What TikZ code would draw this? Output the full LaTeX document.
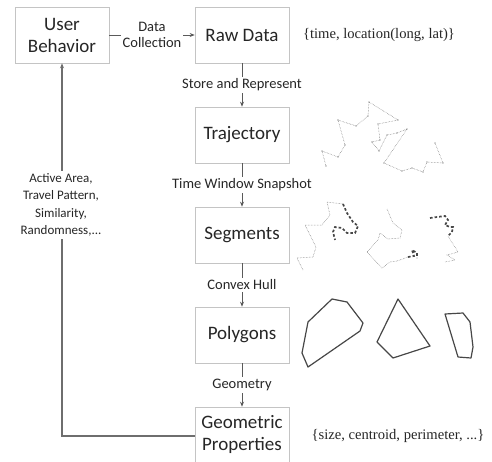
\documentclass[tikz,border=0pt]{standalone}
\usepackage{fontspec}
\setmainfont{Carlito}
\newfontfamily\attrfont{Liberation Serif}
\usetikzlibrary{arrows.meta}

\definecolor{boxgray}{HTML}{C4C4C4}
\definecolor{linegray}{HTML}{5A5A5A}
\definecolor{inkgray}{HTML}{262626}
\definecolor{trackgray}{HTML}{6E6E6E}

\begin{document}
\begin{tikzpicture}[
        x=1pt, y=-1pt,
        stage/.style={draw=boxgray, line width=0.6pt, fill=white, minimum width=94pt,
            minimum height=56pt, align=center, text=inkgray, font=\fontsize{19}{22}\selectfont},
        flow/.style={draw=linegray, line width=0.7pt, -{Stealth[length=5pt,width=4pt]}},
        steplabel/.style={fill=white, text=inkgray, inner sep=2pt, align=center,
            font=\fontsize{14.5}{16}\selectfont},
        attr/.style={text=inkgray, font=\attrfont\fontsize{14.6}{16}\selectfont},
        track/.style={trackgray, line width=0.5pt, densely dotted},
        trackmarks/.style={track, mark=*, mark size=0.35pt, mark options={solid, trackgray!80}},
        piece/.style={inkgray!85, line width=1.7pt, dash pattern=on 2.6pt off 2pt},
        hull/.style={draw=inkgray!85, line width=1.2pt, line join=round}
    ]
    \useasboundingbox (0,0) rectangle (492,461);

    % pipeline
    \node[stage] (user) at (62,35) {User\\Behavior};
    \node[stage] (raw) at (242,35) {Raw Data};
    \node[stage] (traj) at (242,135) {Trajectory};
    \node[stage] (seg) at (242,235) {Segments};
    \node[stage] (poly) at (242,335) {Polygons};
    \node[stage, minimum height=55pt] (geo) at (242,434.5) {Geometric\\Properties};

    \draw[flow] (user) -- node[steplabel] {Data\\Collection} (raw);
    \draw[flow] (raw) -- node[steplabel] {Store and Represent} (traj);
    \draw[flow] (traj) -- node[steplabel] {Time Window Snapshot} (seg);
    \draw[flow] (seg) -- node[steplabel] {Convex Hull} (poly);
    \draw[flow] (poly) -- node[steplabel] {Geometry} (geo);

    % feedback
    \coordinate (corner) at (62,436);
    \draw[flow, draw=trackgray, line width=1.4pt] (geo.west |- corner) -- (corner) -- (user.south);
    \node[steplabel, font=\fontsize{13}{17.5}\selectfont] (usage) at (61,205)
        {Active Area,\\Travel Pattern,\\Similarity,\\Randomness,...};

    \node[attr] (rawattr) at (379,35) {\{time, location(long, lat)\}};
    \node[attr] (geoattr) at (398,436) {\{size, centroid, perimeter, ...\}};

    % trajectory
    \draw[trackmarks] plot coordinates {(326,166) (322,151) (338,157) (345,145) (338,120)
        (356,126) (368,116) (369,102) (398,120) (378,124) (380,140) (372,142) (379,151)
        (387,135) (397,133) (407,129) (384,163) (402,171) (412,168) (423,172) (427,162)
        (443,163) (435,143)};

    % segments
    \draw[track] (303,270) -- (297,258) -- (313,257) -- (316,247) -- (305,225) -- (322,225)
        -- (330,215) -- (327,202) -- (343,204);
    \draw[piece] (343,204) -- (347,213) -- (353,222) -- (358,226) -- (355,233) -- (347,233)
        -- (342,228) -- (335,227) -- (333,232) -- (335,240);
    \draw[track] (387,209) -- (393,223) -- (402,230) -- (400,238) -- (388,239) -- (380,233)
        -- (378,240) -- (367,252) -- (382,268) -- (390,262) -- (397,261) -- (408,257);
    \draw[piece] (408,257) -- (414,256) -- (412,250) -- (417,253) -- (417,258);
    \draw[piece] (430,218) -- (437,217) -- (445,216) -- (448,220) -- (445,225) -- (450,227)
        -- (453,227) -- (452,232) -- (448,236);
    \draw[track] (448,236) -- (451,241) -- (455,247) -- (458,252) -- (447,255) -- (455,260)
        -- (445,262);

    % polygons
    \draw[hull] (308,367) -- (302,353) -- (308,322) -- (332,299) -- (347,302) -- (363,323)
        -- (360,331) -- cycle;
    \draw[hull] (398,299) -- (430,346) -- (393,358) -- (377,342) -- cycle;
    \draw[hull] (445,314) -- (463,313) -- (470,322) -- (473,347) -- (471,358) -- (458,357) -- cycle;
\end{tikzpicture}
\end{document}
